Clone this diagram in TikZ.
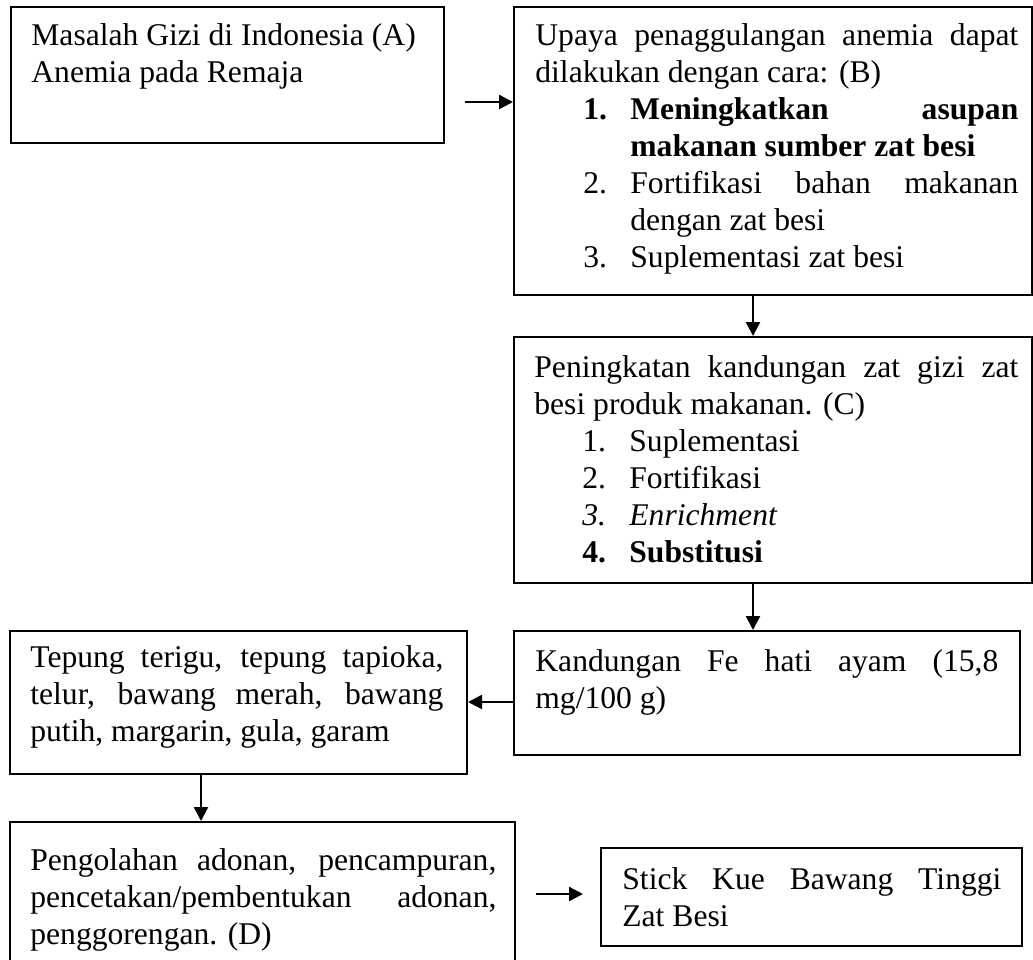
\documentclass[tikz,border=0pt]{standalone}
\usepackage{fontspec}
\setmainfont{Liberation Serif}
\usetikzlibrary{arrows.meta}
\newcommand\itm[1]{\par\hangindent=47.5pt\hangafter=0\noindent\llap{\makebox[23.5pt][l]{#1}}}
\begin{document}
\begin{tikzpicture}[x=0.5pt,y=-0.5pt,
  boxst/.style={draw, line width=1pt, anchor=north west, inner sep=0pt, rectangle},
  txt/.style={anchor=base west, inner sep=0pt, align=justify, font=\fontsize{15.8}{18.5}\selectfont},
  arr/.style={line width=1.2pt, -{Triangle[length=7pt,width=7pt]}}]
\useasboundingbox (0,0) rectangle (1033,959);

% boxes
\node[boxst, minimum width=216.5pt, minimum height=68pt] (A) at (10,6) {};
\node[boxst, minimum width=259pt, minimum height=144pt] (B) at (513,6) {};
\node[boxst, minimum width=259pt, minimum height=123pt] (C) at (513,336) {};
\node[boxst, minimum width=253pt, minimum height=62pt] (Fe) at (513,630) {};
\node[boxst, minimum width=228.5pt, minimum height=71.5pt] (T) at (9,630) {};
\node[boxst, minimum width=252.5pt, minimum height=89.5pt] (P) at (9,821) {};
\node[boxst, minimum width=210.5pt, minimum height=49pt] (S) at (600,847) {};

% texts
\node[txt, text width=205pt] (At) at (31,45) {Masalah Gizi di Indonesia (A)\\Anemia pada Remaja};
\node[txt, text width=241.5pt] (Bt) at (535,45) {Upaya penaggulangan anemia dapat\linebreak dilakukan dengan cara: (B)
\itm{\textbf{1.}}\textbf{Meningkatkan asupan\linebreak makanan sumber zat besi}
\itm{2.}Fortifikasi bahan makanan\linebreak dengan zat besi
\itm{3.}Suplementasi zat besi\par};
\node[txt, text width=242pt] (Ct) at (534,377) {Peningkatan kandungan zat gizi zat\linebreak besi produk makanan. (C)
\itm{1.}Suplementasi
\itm{2.}Fortifikasi
\itm{\textit{3.}}\textit{Enrichment}
\itm{\textbf{4.}}\textbf{Substitusi}\par};
\node[txt, text width=231.5pt] (Fet) at (535,671) {Kandungan Fe hati ayam (15,8\linebreak mg/100 g)};
\node[txt, text width=206.5pt] (Tt) at (30,667) {Tepung terigu, tepung tapioka,\linebreak telur, bawang merah, bawang\linebreak putih, margarin, gula, garam};
\node[txt, text width=233pt] (Pt) at (30,870) {Pengolahan adonan, pencampuran,\linebreak pencetakan/pembentukan adonan,\linebreak penggorengan. (D)};
\node[txt, text width=189.5pt] (St) at (622,889) {Stick Kue Bawang Tinggi\linebreak Zat Besi};

% connector helpers
\coordinate (a1) at (465,102);
\coordinate (xbc) at (753,0);
\coordinate (yft) at (0,702);
\coordinate (xtp) at (201,0);
\coordinate (p1) at (536,894);
\coordinate (p2) at (583,894);

% connectors
\draw[arr] (a1) -- (a1 -| B.west);
\draw[arr] (B.south -| xbc) -- (C.north -| xbc);
\draw[arr] (C.south -| xbc) -- (Fe.north -| xbc);
\draw[arr] (Fe.west |- yft) -- (T.east |- yft);
\draw[arr] (T.south -| xtp) -- (P.north -| xtp);
\draw[arr] (p1) -- (p2);
\end{tikzpicture}
\end{document}
